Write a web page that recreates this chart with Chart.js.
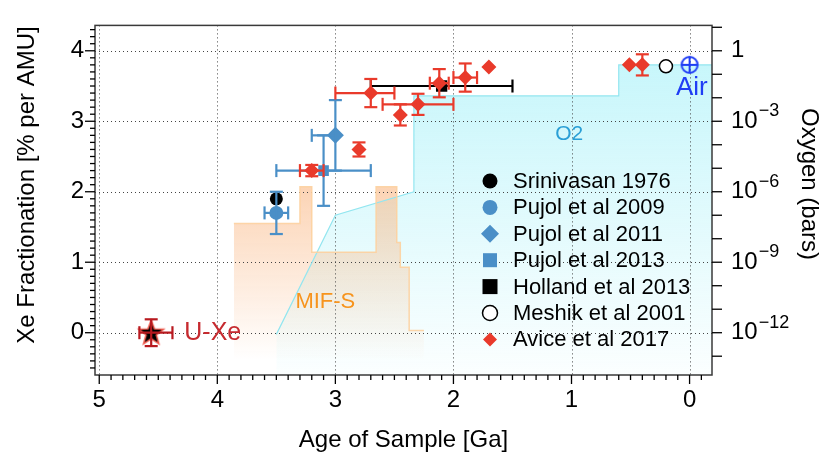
<!DOCTYPE html>
<html>
<head>
<meta charset="utf-8">
<script src="https://cdn.jsdelivr.net/npm/chart.js@4.4.1/dist/chart.umd.min.js"></script>
<style>
  body { margin: 0; background: #fff; }
</style>
</head>
<body>
<canvas id="myChart" width="830" height="467"></canvas>
<script>
function $(id) {
  return document.getElementById(id);
}

// ---- data (age in Ga, Xe fractionation in % per AMU) ----
const ageTicks = [0, 1, 2, 3, 4, 5];
const xeTicks = [0, 1, 2, 3, 4];
const o2LabelExps = [0, -3, -6, -9, -12];
const o2TickExps = [1, 0, -1, -2, -3, -4, -5, -6, -7, -8, -9, -10, -11, -12, -13];

// errors on age are [toward younger, toward older]
const srinAge = [3.5];
const srinXe = [1.9];

const p09Age = [3.5];
const p09Xe = [1.7];
const p09AgeErr = [[0.1, 0.1]];
const p09XeErr = [0.3];

const p11Age = [3.0];
const p11Xe = [2.8];
const p11AgeErr = [[0, 0.2]];
const p11XeErr = [0.5];

const p13Age = [3.1];
const p13Xe = [2.3];
const p13AgeErr = [[0.4, 0.4]];
const p13XeErr = [0.5];

const holAge = [2.1];
const holXe = [3.5];
const holAgeErr = [[0.6, 0.6]];
const holXeErr = [0];

const mesAge = [0.2];
const mesXe = [3.78];

const avAge = [3.2, 2.8, 2.7, 2.45, 2.3, 2.12, 1.9, 1.7, 0.51, 0.40];
const avXe = [2.3, 2.6, 3.4, 3.09, 3.24, 3.54, 3.62, 3.77, 3.80, 3.80];
const avAgeErr = [[0.1, 0.1], [0, 0], [0.2, 0.3], [0, 0], [0.3, 0.3], [0.08, 0.08], [0.1, 0.1], [0, 0], [0, 0], [0, 0]];
const avXeErr = [0.08, 0.1, 0.2, 0.15, 0.15, 0.2, 0.2, 0, 0, 0.15];

const uxeAge = [4.56];
const uxeXe = [0];
const uxeAgeErr = [[0.18, 0.1]];
const uxeXeErr = [0.19];

const airAge = [0];
const airXe = [3.8];

// atmospheric O2 (bars), right axis
const o2Age = [3.5, 3.0, 2.335, 2.335, 0.6, 0.6, -0.19];
const o2Bars = [8.5e-13, 1e-7, 1e-6, 0.012, 0.012, 0.25, 0.25];

// MIF-S envelope (arbitrary, drawn on left axis)
const mifAge = [3.86, 3.30, 3.30, 3.20, 3.20, 2.655, 2.655, 2.48, 2.48, 2.45, 2.45, 2.375, 2.375, 2.25];
const mifLevel = [1.55, 1.55, 2.07, 2.07, 1.14, 1.14, 2.07, 2.07, 1.28, 1.28, 0.93, 0.93, 0.03, 0.03];

const FONT = "'Liberation Sans', Arial, sans-serif";
const RED = "#e93a2b";
const BLUE = "#4a8fc7";

function pts(xs, ys) {
  return xs.map((x, i) => ({ x: x, y: ys[i] }));
}

function starImage() {
  const c = document.createElement("canvas");
  c.width = 30; c.height = 30;
  const g = c.getContext("2d");
  g.beginPath();
  for (let i = 0; i < 10; i++) {
    const r = i % 2 == 0 ? 13 : 5.4;
    const a = -Math.PI / 2 + i * Math.PI / 5;
    g.lineTo(15 + r * Math.cos(a), 15.5 + r * Math.sin(a));
  }
  g.closePath();
  g.fillStyle = "#000";
  g.fill();
  g.strokeStyle = "#ef5548";
  g.lineWidth = 1.5;
  g.stroke();
  return c;
}

function airImage() {
  const c = document.createElement("canvas");
  c.width = 20; c.height = 20;
  const g = c.getContext("2d");
  g.strokeStyle = "#1f3df5";
  g.lineWidth = 2;
  g.beginPath();
  g.arc(10, 10, 8, 0, Math.PI * 2);
  g.moveTo(2, 10); g.lineTo(18, 10);
  g.moveTo(10, 2); g.lineTo(10, 18);
  g.stroke();
  return c;
}

function cyanFill(context) {
  const chart = context.chart;
  if (!chart.chartArea) return null;
  const g = chart.ctx.createLinearGradient(0, chart.chartArea.top + 40, 0, chart.chartArea.bottom);
  g.addColorStop(0, "rgba(160,240,248,0.58)");
  g.addColorStop(1, "rgba(160,240,248,0.04)");
  return g;
}

function orangeFill(context) {
  const chart = context.chart;
  if (!chart.chartArea) return null;
  const ys = chart.scales.y;
  const g = chart.ctx.createLinearGradient(0, ys.getPixelForValue(2.07), 0, ys.getPixelForValue(-0.4));
  g.addColorStop(0, "rgba(250,185,135,0.62)");
  g.addColorStop(1, "rgba(250,185,135,0)");
  return g;
}

const notes = [
  { text: "O2", x: 1.02, y: 2.82, color: "#2a9fd6", size: 21, align: "center" },
  { text: "MIF-S", x: 3.085, y: 0.43, color: "#f7941d", size: 22, align: "center" },
  { text: "U-Xe", x: 4.28, y: 0.0, color: "#c62a2f", size: 25, align: "left" },
  { text: "Air", x: 0.115, y: 3.48, color: "#1f3df5", size: 26, align: "left" }
];

const legendItems = [
  { label: "Srinivasan 1976", shape: "circle", color: "#000", r: 7.5 },
  { label: "Pujol et al 2009", shape: "circle", color: BLUE, r: 7.5 },
  { label: "Pujol et al 2011", shape: "diamond", color: BLUE, r: 9 },
  { label: "Pujol et al 2013", shape: "square", color: BLUE, r: 7 },
  { label: "Holland et al 2013", shape: "square", color: "#000", r: 7.5 },
  { label: "Meshik et al 2001", shape: "open", color: "#000", r: 7.5 },
  { label: "Avice et al 2017", shape: "diamond", color: RED, r: 7 }
];

function drawMarker(ctx, item, x, y) {
  ctx.beginPath();
  if (item.shape == "circle" || item.shape == "open") {
    ctx.arc(x, y, item.r, 0, Math.PI * 2);
  } else if (item.shape == "diamond") {
    ctx.moveTo(x - item.r, y); ctx.lineTo(x, y - item.r);
    ctx.lineTo(x + item.r, y); ctx.lineTo(x, y + item.r);
    ctx.closePath();
  } else {
    ctx.rect(x - item.r, y - item.r, item.r * 2, item.r * 2);
  }
  if (item.shape == "open") {
    ctx.fillStyle = "#fff"; ctx.fill();
    ctx.strokeStyle = item.color; ctx.lineWidth = 1.5; ctx.stroke();
  } else {
    ctx.fillStyle = item.color; ctx.fill();
  }
}

function seg(ctx, x1, y1, x2, y2) {
  ctx.beginPath();
  ctx.moveTo(x1, y1);
  ctx.lineTo(x2, y2);
  ctx.stroke();
}

function vText(ctx, text, x, y, angle) {
  ctx.save();
  ctx.translate(x, y);
  ctx.rotate(angle);
  ctx.fillText(text, 0, 0);
  ctx.restore();
}

const decor = {
  id: "decor",
  beforeDatasetsDraw(chart) {
    // dotted grid, above the shaded areas but below the marks
    const ctx = chart.ctx;
    const a = chart.chartArea;
    const xs = chart.scales.x, ys = chart.scales.y;
    ctx.save();
    ctx.strokeStyle = "#444";
    ctx.lineWidth = 1;
    ctx.setLineDash([1, 3]);
    ageTicks.forEach(v => {
      const px = Math.round(xs.getPixelForValue(v)) + 0.5;
      seg(ctx, px, a.top, px, a.bottom);
    });
    xeTicks.forEach(v => {
      const py = Math.round(ys.getPixelForValue(v)) + 0.5;
      seg(ctx, a.left, py, a.right, py);
    });
    ctx.restore();
  },
  afterDatasetDraw(chart, args) {
    const ds = chart.data.datasets[args.index];
    if (!ds.errX) return;
    const ctx = chart.ctx;
    const xs = chart.scales.x, ys = chart.scales.y;
    const cap = 6.5;
    ctx.save();
    ctx.strokeStyle = ds.errColor;
    ctx.lineWidth = 2.2;
    ds.data.forEach((p, i) => {
      const px = xs.getPixelForValue(p.x), py = ys.getPixelForValue(p.y);
      const xm = ds.errX[i][0], xp = ds.errX[i][1], ye = ds.errY[i];
      if (xm || xp) {
        const xl = xs.getPixelForValue(p.x + xp), xr = xs.getPixelForValue(p.x - xm);
        seg(ctx, xl, py, xr, py);
        if (xp) seg(ctx, xl, py - cap, xl, py + cap);
        if (xm) seg(ctx, xr, py - cap, xr, py + cap);
      }
      if (ye) {
        const yt = ys.getPixelForValue(p.y + ye), yb = ys.getPixelForValue(p.y - ye);
        seg(ctx, px, yt, px, yb);
        seg(ctx, px - cap, yt, px + cap, yt);
        seg(ctx, px - cap, yb, px + cap, yb);
      }
    });
    ctx.restore();
  },
  afterDraw(chart) {
    const ctx = chart.ctx;
    const a = chart.chartArea;
    const xs = chart.scales.x, ys = chart.scales.y, yr = chart.scales.yR;
    ctx.save();
    // frame
    ctx.strokeStyle = "#3a3a3a";
    ctx.lineWidth = 1.5;
    ctx.strokeRect(a.left, a.top, a.right - a.left, a.bottom - a.top);
    // ticks
    ctx.strokeStyle = "#000";
    ctx.lineWidth = 1.3;
    for (let k = -1; k <= 50; k++) {
      const px = xs.getPixelForValue(k / 10);
      seg(ctx, px, a.bottom, px, a.bottom + (k % 10 == 0 ? 9 : 5));
    }
    for (let k = -5; k <= 43; k++) {
      const py = ys.getPixelForValue(k / 10);
      seg(ctx, a.left, py, a.left - (k % 10 == 0 ? 10 : 5), py);
    }
    o2TickExps.forEach(e => {
      const py = yr.getPixelForValue(Math.pow(10, e));
      seg(ctx, a.right, py, a.right + 10, py);
    });
    // right axis labels with superscripts
    ctx.fillStyle = "#000";
    ctx.textBaseline = "middle";
    ctx.textAlign = "left";
    o2LabelExps.forEach(e => {
      const py = yr.getPixelForValue(Math.pow(10, e));
      ctx.font = "24px " + FONT;
      if (e == 0) {
        ctx.fillText("1", a.right + 19, py);
      } else {
        ctx.fillText("10", a.right + 19, py);
        const w = ctx.measureText("10").width;
        ctx.font = "18px " + FONT;
        ctx.fillText("\u2212" + Math.abs(e), a.right + 19 + w + 1, py - 10);
      }
    });
    // axis titles
    ctx.font = "24px " + FONT;
    ctx.textAlign = "center";
    vText(ctx, "Xe Fractionation [% per AMU]", 27, 185, -Math.PI / 2);
    vText(ctx, "Oxygen (bars)", 809, 184, Math.PI / 2);
    // text labels
    notes.forEach(n => {
      ctx.font = n.size + "px " + FONT;
      ctx.fillStyle = n.color;
      ctx.textAlign = n.align;
      ctx.fillText(n.text, xs.getPixelForValue(n.x), ys.getPixelForValue(n.y));
    });
    // legend
    ctx.font = "22px " + FONT;
    ctx.textAlign = "left";
    legendItems.forEach((it, i) => {
      const y = 181 + i * 26.4;
      drawMarker(ctx, it, 490, y);
      ctx.fillStyle = "#000";
      ctx.fillText(it.label, 513, y + 1);
    });
    ctx.restore();
  }
};

const hiddenGrid = { display: false, drawTicks: false };

new Chart($("myChart").getContext("2d"), {
  type: "scatter",
  data: {
    datasets: [
      {
        label: "Avice et al 2017", data: pts(avAge, avXe), order: 0,
        pointStyle: "rectRot", pointRadius: 7.5, backgroundColor: RED, borderWidth: 0,
        errX: avAgeErr, errY: avXeErr, errColor: RED
      },
      {
        label: "Holland et al 2013", data: pts(holAge, holXe), order: 1,
        pointStyle: "rect", pointRadius: 8, backgroundColor: "#000", borderWidth: 0,
        errX: holAgeErr, errY: holXeErr, errColor: "#000"
      },
      {
        label: "Pujol et al 2013", data: pts(p13Age, p13Xe), order: 2,
        pointStyle: "rect", pointRadius: 7.5, backgroundColor: BLUE, borderWidth: 0,
        errX: p13AgeErr, errY: p13XeErr, errColor: BLUE
      },
      {
        label: "Pujol et al 2011", data: pts(p11Age, p11Xe), order: 2,
        pointStyle: "rectRot", pointRadius: 8.5, backgroundColor: BLUE, borderWidth: 0,
        errX: p11AgeErr, errY: p11XeErr, errColor: BLUE
      },
      {
        label: "Pujol et al 2009", data: pts(p09Age, p09Xe), order: 3,
        pointStyle: "circle", pointRadius: 7, backgroundColor: BLUE, borderWidth: 0,
        errX: p09AgeErr, errY: p09XeErr, errColor: BLUE
      },
      {
        label: "Srinivasan 1976", data: pts(srinAge, srinXe), order: 4,
        pointStyle: "circle", pointRadius: 6.5, backgroundColor: "#000", borderWidth: 0
      },
      {
        label: "Meshik et al 2001", data: pts(mesAge, mesXe), order: 4,
        pointStyle: "circle", pointRadius: 6.5, backgroundColor: "#fff", borderColor: "#000", borderWidth: 1.5
      },
      {
        label: "U-Xe", data: pts(uxeAge, uxeXe), order: 5,
        pointStyle: starImage(), errX: uxeAgeErr, errY: uxeXeErr, errColor: "#b8191f"
      },
      {
        label: "Air", data: pts(airAge, airXe), order: 5, pointStyle: airImage()
      },
      {
        label: "MIF-S", data: pts(mifAge, mifLevel), order: 8, showLine: true,
        pointRadius: 0, borderColor: "rgba(253,210,160,0.9)", borderWidth: 1.5,
        backgroundColor: orangeFill, fill: "start"
      },
      {
        label: "O2", data: pts(o2Age, o2Bars), order: 9, yAxisID: "yR", showLine: true,
        pointRadius: 0, borderColor: "#93e6f0", borderWidth: 1.2,
        backgroundColor: cyanFill, fill: "start"
      }
    ]
  },
  options: {
    responsive: false,
    animation: false,
    layout: { padding: { top: 21, left: 0, right: 0, bottom: 0 } },
    plugins: {
      legend: { display: false },
      tooltip: { enabled: false },
      filler: { drawTime: "beforeDraw" }
    },
    scales: {
      x: {
        type: "linear", reverse: true, min: -0.19, max: 5.036,
        afterBuildTicks: s => { s.ticks = ageTicks.map(v => ({ value: v })); },
        afterFit: s => { s.height = 92; },
        grid: hiddenGrid, border: { display: false },
        ticks: { color: "#000", font: { family: FONT, size: 24 }, padding: 11 },
        title: { display: true, text: "Age of Sample [Ga]", color: "#000", font: { family: FONT, size: 24 }, padding: { top: 0, bottom: 12 } }
      },
      y: {
        type: "linear", position: "left", min: -0.6, max: 4.36,
        afterBuildTicks: s => { s.ticks = xeTicks.map(v => ({ value: v })); },
        afterFit: s => { s.width = 95; },
        grid: hiddenGrid, border: { display: false },
        ticks: { color: "#000", font: { family: FONT, size: 24 }, padding: 11 }
      },
      yR: {
        type: "logarithmic", position: "right", min: Math.pow(10, -13.8), max: Math.pow(10, 1.08),
        afterBuildTicks: s => { s.ticks = o2TickExps.map(e => ({ value: Math.pow(10, e) })); },
        afterFit: s => { s.width = 118; },
        grid: hiddenGrid, border: { display: false },
        ticks: { display: false }
      }
    }
  },
  plugins: [decor]
});
</script>
</body>
</html>
